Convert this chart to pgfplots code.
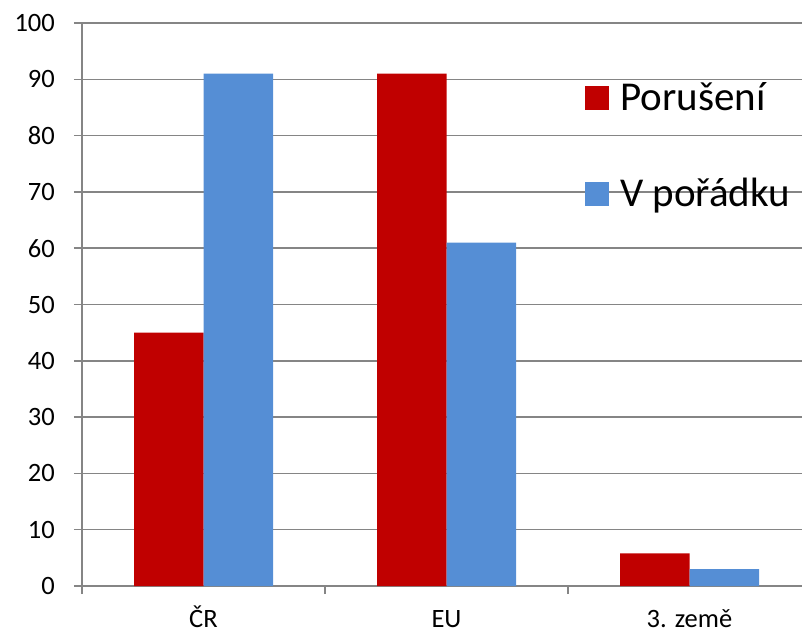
\documentclass[border=0pt]{standalone}
\usepackage{fontspec}
\setmainfont{Carlito}
\usepackage{pgfplots}
\pgfplotsset{compat=1.18}

\definecolor{porred}{HTML}{C00000}
\definecolor{okblue}{HTML}{558ED5}
\definecolor{gridgray}{HTML}{858585}

\pgfplotstableread{
x poruseni poradek
0 45  91
1 91  61
2 5.8 3
}\counts

\begin{document}
\begin{tikzpicture}
\begin{axis}[
  at={(82pt,47pt)}, anchor=south west,
  scale only axis,
  width=729pt, height=563pt,
  xmin=-0.5, xmax=2.5,
  ymin=0, ymax=100,
  ytick={0,10,...,100},
  xtick={0,1,2},
  xticklabels={ČR, EU, 3. země},
  minor xtick={-0.5,0.5,1.5},
  axis lines*=left,
  axis line style={draw=gridgray, line width=1.5pt},
  ymajorgrids,
  major grid style={draw=gridgray, line width=1.5pt},
  tick align=outside,
  major tick length=8pt,
  minor tick length=8pt,
  major x tick style={draw=none},
  tick style={draw=gridgray, line width=1.5pt},
  /pgf/number format/assume math mode=true,
  ticklabel style={font=\fontsize{26.5}{26.5}\selectfont, text=black},
  yticklabel style={anchor=east, inner sep=0pt, xshift=-19pt},
  xticklabel style={anchor=base, inner sep=0pt, text depth=0pt, yshift=-33pt},
  ybar=0pt,
  bar width=69.5pt,
  legend style={
    draw=none, fill=none, inner sep=0pt,
    at={(rel axis cs:0.690,0.890)}, anchor=north west,
    row sep=71pt,
    font=\fontsize{41}{41}\selectfont,
    nodes={inner xsep=11pt, inner ysep=0pt, text height=25pt, text depth=0pt},
  },
  legend cell align=left,
  legend image code/.code={\fill[#1] (0pt,-12pt) rectangle (24pt,12pt);},
]
\addplot[fill=porred, draw=none] table[x=x, y=poruseni] {\counts};
\addplot[fill=okblue, draw=none] table[x=x, y=poradek] {\counts};
\legend{Porušení, V pořádku}
\end{axis}
\pgfresetboundingbox
\path[use as bounding box] (0,0) rectangle (802pt,633pt);
\end{tikzpicture}
\end{document}
